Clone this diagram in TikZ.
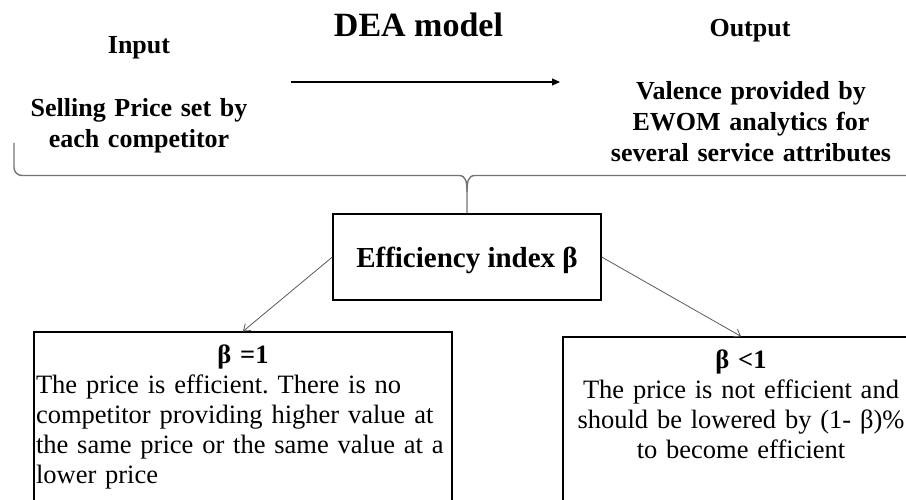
\documentclass[tikz,border=0pt]{standalone}
\usepackage{fontspec}
\setmainfont{Liberation Serif}
\usepackage{tikz}
\usetikzlibrary{positioning,arrows.meta}
\frenchspacing

\begin{document}
\begin{tikzpicture}[x=1pt,y=-1pt,
    titletext/.style={font=\bfseries\fontsize{34}{40}\selectfont,inner sep=0pt,anchor=base},
    headtext/.style={font=\bfseries\fontsize{26}{31}\selectfont,inner sep=0pt,anchor=base,align=center},
    effbox/.style={draw,line width=1.3pt,minimum width=268pt,minimum height=86pt,font=\bfseries\fontsize{29}{34}\selectfont,text height=23pt,text depth=1pt},
    resultbox/.style={draw,line width=1.3pt,anchor=base,font=\fontsize{26.5}{30}\selectfont,inner xsep=2pt,inner ysep=12pt,text height=19pt,text depth=150pt},
    flowarrow/.style={line width=1.2pt,-{Triangle[length=8pt,width=7pt]}},
    barbarrow/.style={draw=black!65,line width=0.8pt,-{Straight Barb[length=6pt,width=9pt]}},
    bracepen/.style={draw=black!55,line width=1.4pt}]
  \useasboundingbox (0,0) rectangle (906,500);
  \clip (0,0) rectangle (906,500);
  \node[titletext](dea) at (418.5,37){DEA model};
  \node[headtext](input) at (139,54){Input};
  \node[headtext](output) at (750,37){Output};
  \node[headtext,text width=260pt](selling) at (139,117){Selling Price set by\\each competitor};
  \node[headtext,text width=300pt](valence) at (751,100){Valence provided by\\EWOM analytics for\\several service attributes};
  \coordinate (flowstart) at (291,82);
  \coordinate (flowend) at (560,82);
  \draw[flowarrow] (flowstart) -- (flowend);
  \node[effbox](eff) at (467,257){Efficiency index β};
  \draw[bracepen] (14,143) [rounded corners=8pt] -- (14,175.5) [sharp corners] -- (459,175.5)
    .. controls (466,175.5) and (467,182) .. (467,192) -- (eff.north);
  \draw[bracepen] (467,192) .. controls (467,182) and (468,175.5) .. (475,175.5)
    [rounded corners=8pt] -- (930,175.5) -- (930,143);
  \node[resultbox,text width=414pt,align=left](beq) at (243,363)
    {{\centering\bfseries β =1\par}The price is efficient. There is no\\competitor providing higher value at\\the same price or the same value at a\\lower price};
  \node[resultbox,text width=352pt,align=center](blt) at (741,368)
    {\textbf{β <1}\\The price is not efficient and\\should be lowered by (1- β)\%\\to become efficient};
  \draw[barbarrow] (eff.west) -- (beq.north);
  \draw[barbarrow] (eff.east) -- (blt.north);
\end{tikzpicture}
\end{document}
